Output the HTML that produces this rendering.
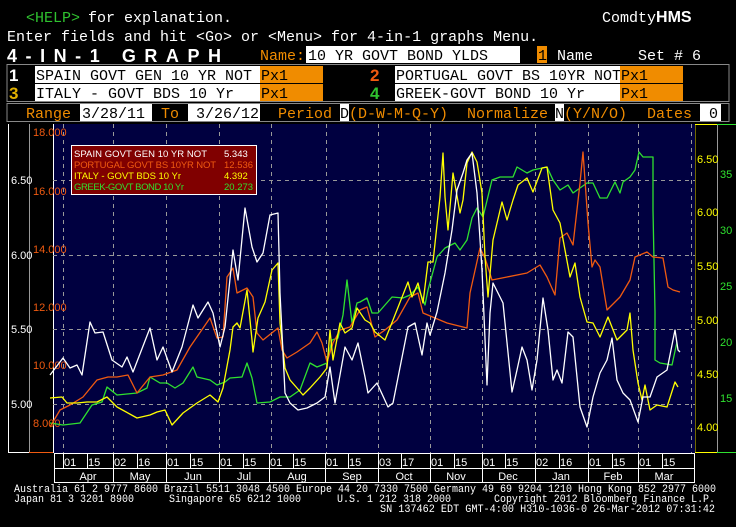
<!DOCTYPE html>
<html><head><meta charset="utf-8"><style>
html,body{margin:0;padding:0;background:#000;width:736px;height:527px;overflow:hidden}
svg{display:block}
.m{font-family:"Liberation Mono",monospace}
.s{font-family:"Liberation Sans",sans-serif}
</style></head><body>
<svg width="736" height="527" xmlns="http://www.w3.org/2000/svg">
<rect width="736" height="527" fill="#000"/>
<g class="m" font-size="15">
<text x="26" y="22" fill="#2fc22f">&lt;HELP&gt;</text>
<text x="88" y="22" fill="#fff">for explanation.</text>
<text x="602" y="22" fill="#fff">Comdty<tspan font-weight="bold" font-family="Liberation Sans" font-size="16">HMS</tspan></text>
<text x="7" y="41" fill="#fff">Enter fields and hit &lt;Go&gt; or &lt;Menu&gt; for 4-in-1 graphs Menu.</text>
<text x="7" y="62" fill="#fff" font-family="Liberation Sans" font-weight="bold" font-size="18" textLength="214" lengthAdjust="spacing">4-IN-1  GRAPH</text>
<text x="260" y="60" fill="#f08c00">Name:</text>
<rect x="306" y="46" width="214" height="17" fill="#fff"/>
<text x="308" y="60" fill="#000">10 YR GOVT BOND YLDS</text>
<rect x="537" y="46" width="10" height="17" fill="#f08c00"/>
<text x="538" y="60" fill="#000">1</text>
<text x="557" y="60" fill="#fff">Name</text>
<text x="638" y="60" fill="#fff">Set # 6</text>
</g>
<rect x="7" y="64.5" width="722" height="37" fill="none" stroke="#888" stroke-width="1"/>
<g class="m" font-size="15">
<text x="9" y="81" fill="#fff" font-family="Liberation Sans" font-weight="bold" font-size="17">1</text>
<rect x="35" y="66" width="225" height="17" fill="#fff"/>
<text x="36" y="80" fill="#000">SPAIN GOVT GEN  10 YR NOT</text>
<rect x="260" y="66" width="63" height="17" fill="#f08c00"/>
<text x="261" y="80" fill="#000">Px1</text>
<text x="370" y="81" fill="#f05a10" font-family="Liberation Sans" font-weight="bold" font-size="17">2</text>
<rect x="395" y="66" width="225" height="17" fill="#fff"/>
<text x="396" y="80" fill="#000">PORTUGAL GOVT BS 10YR NOT</text>
<rect x="620" y="66" width="63" height="17" fill="#f08c00"/>
<text x="621" y="80" fill="#000">Px1</text>
<text x="9" y="99" fill="#e0b000" font-family="Liberation Sans" font-weight="bold" font-size="17">3</text>
<rect x="35" y="84" width="225" height="17" fill="#fff"/>
<text x="36" y="98" fill="#000">ITALY - GOVT BDS 10 Yr</text>
<rect x="260" y="84" width="63" height="17" fill="#f08c00"/>
<text x="261" y="98" fill="#000">Px1</text>
<text x="370" y="99" fill="#2fc22f" font-family="Liberation Sans" font-weight="bold" font-size="17">4</text>
<rect x="395" y="84" width="225" height="17" fill="#fff"/>
<text x="396" y="98" fill="#000">GREEK-GOVT BOND 10 Yr</text>
<rect x="620" y="84" width="63" height="17" fill="#f08c00"/>
<text x="621" y="98" fill="#000">Px1</text>
</g>
<rect x="7" y="103.5" width="722" height="18" fill="none" stroke="#888" stroke-width="1"/>
<g class="m" font-size="15" fill="#f08c00">
<text x="26" y="118">Range</text>
<rect x="80" y="104" width="72" height="17" fill="#fff"/>
<text x="82" y="118" fill="#000">3/28/11</text>
<text x="161" y="118">To</text>
<rect x="188" y="104" width="72" height="17" fill="#fff"/>
<text x="196" y="118" fill="#000">3/26/12</text>
<text x="278" y="118">Period</text>
<rect x="340" y="104" width="9" height="17" fill="#fff"/>
<text x="340" y="118" fill="#000">D</text>
<text x="349" y="118">(D-W-M-Q-Y)</text>
<text x="467" y="118">Normalize</text>
<rect x="555" y="104" width="9" height="17" fill="#fff"/>
<text x="555" y="118" fill="#000">N</text>
<text x="564" y="118">(Y/N/O)</text>
<text x="647" y="118">Dates</text>
<rect x="700" y="104" width="21" height="17" fill="#fff"/>
<text x="709" y="118" fill="#000">0</text>
</g>
<rect x="53" y="124" width="642" height="329" fill="#000040"/>
<line x1="8.5" y1="124" x2="8.5" y2="453" stroke="#fff"/>
<line x1="29.5" y1="124" x2="29.5" y2="453" stroke="#999"/>
<line x1="53.5" y1="124" x2="53.5" y2="453" stroke="#fff"/>
<line x1="8" y1="452.5" x2="29" y2="452.5" stroke="#fff"/>
<line x1="29" y1="452.5" x2="53" y2="452.5" stroke="#f05a10"/>
<line x1="695.5" y1="124" x2="695.5" y2="453" stroke="#e0d000" stroke-opacity="0.5"/>
<line x1="717.5" y1="124" x2="717.5" y2="453" stroke="#999"/>
<line x1="695" y1="452.5" x2="717" y2="452.5" stroke="#ffff00"/>
<line x1="717" y1="452.5" x2="736" y2="452.5" stroke="#2fe02f"/>
<line x1="695" y1="124.5" x2="717" y2="124.5" stroke="#ffff00"/>
<line x1="717" y1="124.5" x2="736" y2="124.5" stroke="#2fe02f"/>
<g stroke="#999" stroke-dasharray="4,4" stroke-width="1">
<line x1="53" y1="180.5" x2="695" y2="180.5"/>
<line x1="53" y1="255.5" x2="695" y2="255.5"/>
<line x1="53" y1="329.5" x2="695" y2="329.5"/>
<line x1="53" y1="404.5" x2="695" y2="404.5"/>
<line x1="63.5" y1="124" x2="63.5" y2="453"/>
<line x1="113.5" y1="124" x2="113.5" y2="453"/>
<line x1="166.5" y1="124" x2="166.5" y2="453"/>
<line x1="219.5" y1="124" x2="219.5" y2="453"/>
<line x1="271.5" y1="124" x2="271.5" y2="453"/>
<line x1="326.5" y1="124" x2="326.5" y2="453"/>
<line x1="378.5" y1="124" x2="378.5" y2="453"/>
<line x1="430.5" y1="124" x2="430.5" y2="453"/>
<line x1="482.5" y1="124" x2="482.5" y2="453"/>
<line x1="535.5" y1="124" x2="535.5" y2="453"/>
<line x1="588.5" y1="124" x2="588.5" y2="453"/>
<line x1="638.5" y1="124" x2="638.5" y2="453"/>
<line x1="691.5" y1="124" x2="691.5" y2="453"/>
</g>
<g class="s" font-size="11" fill="#fff">
<text x="11" y="184">6.50</text><text x="11" y="259">6.00</text><text x="11" y="333">5.50</text><text x="11" y="408">5.00</text>
</g>
<g class="s" font-size="11" fill="#f05a10">
<text x="33" y="136">18.000</text><text x="33" y="195">16.000</text><text x="33" y="253">14.000</text><text x="33" y="311">12.000</text><text x="33" y="369">10.000</text><text x="33" y="427">8.000</text>
</g>
<g class="s" font-size="11" fill="#ffff00">
<text x="697" y="163">6.50</text><text x="697" y="216">6.00</text><text x="697" y="270">5.50</text><text x="697" y="324">5.00</text><text x="697" y="378">4.50</text><text x="697" y="431">4.00</text>
</g>
<g class="s" font-size="11" fill="#2fe02f">
<text x="720" y="178">35</text><text x="720" y="234">30</text><text x="720" y="290">25</text><text x="720" y="346">20</text><text x="720" y="402">15</text>
</g>
<g fill="none" stroke-width="1.3" stroke-linejoin="round">
<polyline stroke="#2fe02f" points="50,423 63,425 80,423 92,405 102,402 107,387 117,395 137,393 147,388 150,377 160,383 167,383 175,388 183,383 193,367 197,377 210,380 217,385 225,382 230,378 242,377 247,363 252,378 257,403 270,402 280,397 290,397 300,390 310,363 317,367 327,363 332,340 338,338 343,315 347,280 352,323 357,303 360,302 367,298 372,313 378,313 392,297 403,298 410,295 418,287 425,305 428,290 437,257 445,248 455,243 460,250 467,240 472,218 477,208 483,217 492,180 500,177 513,177 517,167 527,173 533,170 547,167 553,180 560,190 568,185 573,193 587,183 593,183 600,198 607,198 615,182 620,193 623,182 630,177 635,170 639,152 643,157 653,157 653,210 655,312 655,360 660,363 672,365 677,342"/>
<polyline stroke="#f05a10" points="50,427 60,410 70,405 83,397 97,380 108,377 117,377 128,375 137,393 150,377 163,375 177,370 190,347 210,318 217,338 223,337 227,277 233,268 237,293 247,288 253,297 257,333 263,340 278,328 282,350 287,358 297,352 310,343 317,332 322,343 327,362 333,343 340,330 350,327 360,310 367,307 375,337 385,330 397,320 410,297 418,293 423,313 447,323 467,328 470,293 480,248 485,258 492,280 507,277 527,273 540,265 547,277 555,295 560,238 567,233 573,245 580,183 583,152 588,223 592,267 595,260 600,267 607,310 620,297 630,280 635,257 647,252 653,257 663,258 668,287 673,290 680,292"/>
<polyline stroke="#ffff00" points="50,398 62,397 67,403 77,403 87,402 97,402 107,397 117,407 137,418 150,415 157,412 165,410 172,425 183,413 197,403 210,395 218,402 223,388 230,350 233,327 237,323 240,328 247,290 252,340 253,352 258,318 265,302 272,270 278,263 280,323 285,368 290,380 297,388 303,395 310,388 320,377 327,368 330,330 333,360 340,323 345,333 352,328 357,308 365,320 370,323 375,332 385,340 393,320 408,282 412,297 418,283 423,303 428,262 433,262 440,197 443,153 445,197 448,230 453,173 460,213 463,200 467,163 472,152 477,162 482,193 485,257 488,297 493,240 502,202 507,220 513,200 518,185 527,178 533,192 542,168 547,167 553,210 560,223 570,277 575,263 580,297 587,322 593,323 600,337 608,317 617,340 627,330 630,313 633,350 638,383 642,400 645,385 650,410 657,405 667,407 675,382 678,387"/>
<polyline stroke="#ffffff" points="50,375 63,358 70,368 77,365 82,375 90,322 95,333 103,332 112,360 122,367 127,357 133,372 150,328 157,360 163,347 172,372 182,347 193,305 198,318 208,302 213,313 220,347 225,327 233,250 238,280 245,208 252,247 257,262 263,253 270,215 278,213 280,293 285,393 290,403 298,410 307,408 317,403 325,397 330,367 335,403 345,347 352,360 358,343 365,377 368,393 377,383 388,407 393,403 408,327 415,323 422,355 427,323 430,335 437,312 445,273 452,230 457,190 463,173 467,160 472,153 477,193 482,270 487,385 490,313 493,283 498,293 503,303 512,392 517,370 522,347 527,360 532,390 537,360 543,298 548,330 553,380 557,370 562,383 568,332 573,337 580,407 587,427 593,397 600,373 607,360 612,338 617,380 623,393 630,400 638,422 643,397 650,397 657,377 667,370 675,330 678,350 680,352"/>
</g>
<rect x="71.5" y="145.5" width="185" height="49" fill="#800000" stroke="#fff" stroke-width="1"/>
<g class="s" font-size="9.5">
<text x="74" y="157" fill="#fff" textLength="133">SPAIN GOVT GEN  10 YR NOT</text><text x="224" y="157" fill="#fff">5.343</text>
<text x="74" y="168" fill="#f05a10" textLength="142">PORTUGAL GOVT BS 10YR NOT</text><text x="224" y="168" fill="#f05a10">12.536</text>
<text x="74" y="179" fill="#ffff00" textLength="107">ITALY - GOVT BDS 10 Yr</text><text x="224" y="179" fill="#ffff00">4.392</text>
<text x="74" y="190" fill="#2fe02f" textLength="110">GREEK-GOVT BOND 10 Yr</text><text x="224" y="190" fill="#2fe02f">20.273</text>
</g>
<g stroke="#fff" stroke-width="1" fill="none">
<rect x="54.5" y="453.5" width="640" height="29"/>
<line x1="54" y1="468.5" x2="695" y2="468.5"/>
<line x1="113.5" y1="453" x2="113.5" y2="483"/><line x1="166.5" y1="453" x2="166.5" y2="483"/><line x1="219.5" y1="453" x2="219.5" y2="483"/><line x1="269.5" y1="453" x2="269.5" y2="483"/><line x1="325.5" y1="453" x2="325.5" y2="483"/><line x1="378.5" y1="453" x2="378.5" y2="483"/><line x1="430.5" y1="453" x2="430.5" y2="483"/><line x1="482.5" y1="453" x2="482.5" y2="483"/><line x1="535.5" y1="453" x2="535.5" y2="483"/><line x1="588.5" y1="453" x2="588.5" y2="483"/><line x1="638.5" y1="453" x2="638.5" y2="483"/>
<line x1="63.5" y1="453" x2="63.5" y2="468"/><line x1="87.5" y1="453" x2="87.5" y2="468"/><line x1="137.5" y1="453" x2="137.5" y2="468"/><line x1="190.5" y1="453" x2="190.5" y2="468"/><line x1="243.5" y1="453" x2="243.5" y2="468"/><line x1="293.5" y1="453" x2="293.5" y2="468"/><line x1="348.5" y1="453" x2="348.5" y2="468"/><line x1="401.5" y1="453" x2="401.5" y2="468"/><line x1="454.5" y1="453" x2="454.5" y2="468"/><line x1="505.5" y1="453" x2="505.5" y2="468"/><line x1="559.5" y1="453" x2="559.5" y2="468"/><line x1="612.5" y1="453" x2="612.5" y2="468"/><line x1="662.5" y1="453" x2="662.5" y2="468"/>
</g>
<g class="s" font-size="11" fill="#fff">
<text x="64" y="466">01</text><text x="88" y="466">15</text><text x="114" y="466">02</text><text x="138" y="466">16</text><text x="167" y="466">01</text><text x="191" y="466">15</text><text x="220" y="466">01</text><text x="244" y="466">15</text><text x="270" y="466">01</text><text x="294" y="466">15</text><text x="326" y="466">01</text><text x="349" y="466">15</text><text x="379" y="466">03</text><text x="402" y="466">17</text><text x="431" y="466">01</text><text x="455" y="466">15</text><text x="483" y="466">01</text><text x="506" y="466">15</text><text x="536" y="466">02</text><text x="560" y="466">16</text><text x="589" y="466">01</text><text x="613" y="466">15</text><text x="639" y="466">01</text><text x="663" y="466">15</text>
</g>
<g class="s" font-size="11" fill="#fff" text-anchor="middle">
<text x="88" y="480">Apr</text><text x="140" y="480">May</text><text x="193" y="480">Jun</text><text x="244" y="480">Jul</text><text x="297" y="480">Aug</text><text x="352" y="480">Sep</text><text x="404" y="480">Oct</text><text x="456" y="480">Nov</text><text x="508" y="480">Dec</text><text x="561" y="480">Jan</text><text x="613" y="480">Feb</text><text x="664" y="480">Mar</text>
</g>
<g class="m" font-size="11" fill="#fff">
<text x="14" y="492" textLength="702" lengthAdjust="spacingAndGlyphs">Australia 61 2 9777 8600 Brazil 5511 3048 4500 Europe 44 20 7330 7500 Germany 49 69 9204 1210 Hong Kong 852 2977 6000</text>
<text x="14" y="502" textLength="120" lengthAdjust="spacingAndGlyphs">Japan 81 3 3201 8900</text>
<text x="169" y="502" textLength="132" lengthAdjust="spacingAndGlyphs">Singapore 65 6212 1000</text>
<text x="337" y="502" textLength="114" lengthAdjust="spacingAndGlyphs">U.S. 1 212 318 2000</text>
<text x="494" y="502" textLength="221" lengthAdjust="spacingAndGlyphs">Copyright 2012 Bloomberg Finance L.P.</text>
<text x="380" y="512" textLength="335" lengthAdjust="spacingAndGlyphs">SN 137462 EDT  GMT-4:00 H310-1036-0 26-Mar-2012 07:31:42</text>
</g>
</svg>
</body></html>
